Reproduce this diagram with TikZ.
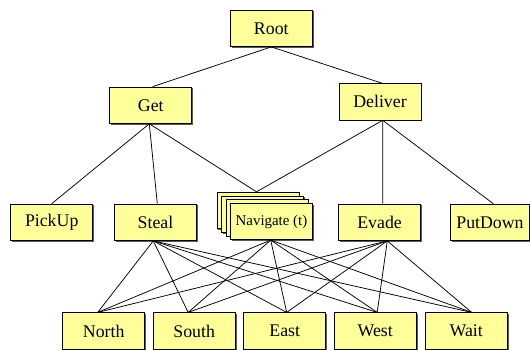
\documentclass[tikz,border=0pt]{standalone}
\usepackage{fontspec}
\setmainfont{Liberation Serif}
\newfontfamily\tnr{Liberation Serif}
\usetikzlibrary{shadows}
\definecolor{boxfill}{HTML}{FFFF99}
\tikzset{
  box/.style={draw=black, line width=0.7pt, fill=boxfill, minimum width=82pt, minimum height=36.5pt,
    inner sep=0pt, font=\tnr\fontsize{17.8}{20}\selectfont,
    drop shadow={shadow xshift=1.4pt, shadow yshift=-1.4pt, fill=black!65, opacity=1}},
  navbox/.style={box, font=\tnr\fontsize{14.9}{17}\selectfont},
  link/.style={draw=black, line width=0.75pt}
}
\begin{document}
\begin{tikzpicture}[x=1pt,y=-1pt]
\useasboundingbox (0,0) rectangle (530,349);
% top
\node[box] (root) at (271.3,28.3) {Root};
\node[box] (get) at (150.8,105.2) {Get};
\node[box] (deliver) at (380,101.7) {Deliver};
% middle row
\node[box] (pickup) at (51.7,222.3) {PickUp};
\node[box] (steal) at (155.5,222.3) {Steal};
\node[navbox] (nav3) at (258.0,210.4) {};
\node[navbox] (nav2) at (262.5,214.1) {};
\node[navbox] (nav1) at (267.0,217.8) {};
\node[navbox] (nav) at (271.5,221.5) {Navigate (t)};
\node[box] (evade) at (379.6,222.3) {Evade};
\node[box, minimum width=79pt] (putdown) at (490,222.3) {PutDown};
% bottom row
\node[box] (north) at (103.7,331) {North};
\node[box] (south) at (194.2,331) {South};
\node[box] (east) at (284.7,331) {East};
\node[box] (west) at (375.2,331) {West};
\node[box] (wait) at (466.2,331) {Wait};
% connection points
\coordinate (getT) at ([xshift=2pt]get.north);
\coordinate (getB) at ([xshift=-1.5pt]get.south);
\coordinate (delT) at ([xshift=1.7pt]deliver.north);
\coordinate (delB) at ([xshift=2.7pt]deliver.south);
\coordinate (stealT) at ([xshift=1.8pt]steal.north);
\coordinate (stealB) at ([xshift=-2.2pt]steal.south);
\coordinate (navT) at ([xshift=-1.5pt]nav3.north);
\coordinate (navB) at ([xshift=-0.8pt]nav.south);
\coordinate (evT) at ([xshift=3.1pt]evade.north);
\coordinate (evB) at ([xshift=7.7pt]evade.south);
\coordinate (putT) at ([xshift=3.3pt]putdown.north);
\coordinate (nT) at ([xshift=-6pt]north.north);
\coordinate (sT) at ([xshift=-6pt]south.north);
\coordinate (eT) at ([xshift=2pt]east.north);
\coordinate (wT) at ([xshift=2pt]west.north);
\coordinate (waT) at ([xshift=5.5pt]wait.north);
% links
\draw[link] (root.south) -- (getT);
\draw[link] (root.south) -- (delT);
\draw[link] (getB) -- (pickup.north);
\draw[link] (getB) -- (stealT);
\draw[link] (getB) -- (navT);
\draw[link] (delB) -- (navT);
\draw[link] (delB) -- (evT);
\draw[link] (delB) -- (putT);
\foreach \s in {stealB,navB,evB}{
  \foreach \t in {nT,sT,eT,wT,waT}{
    \draw[link] (\s) -- (\t);
  }
}
\end{tikzpicture}
\end{document}
